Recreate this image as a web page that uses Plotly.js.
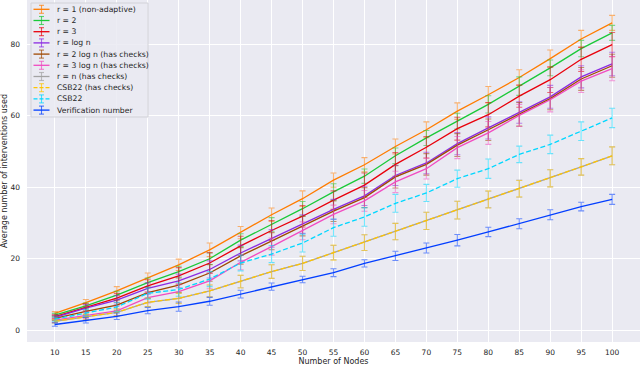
<!DOCTYPE html>
<html>
<head>
<meta charset="utf-8">
<script src="https://cdn.plot.ly/plotly-3.0.1.min.js"></script>
<style>
  html, body { margin: 0; padding: 0; background: #fff; }
  #plot { width: 640px; height: 366px; }
</style>
</head>
<body>
<div id="plot"></div>
<script>
// number of nodes on the x axis
var nodes = [10, 15, 20, 25, 30, 35, 40, 45, 50, 55, 60, 65, 70, 75, 80, 85, 90, 95, 100];

var names = ["r = 1 (non-adaptive)", "r = 2", "r = 3", "r = log n", "r = 2 log n (has checks)",
             "r = 3 log n (has checks)", "r = n (has checks)", "CSB22 (has checks)", "CSB22",
             "Verification number"];

// mean values
var r1       = [4.7, 7.7, 11.0, 14.6, 18.3, 22.5, 27.3, 32.3, 36.8, 42.0, 46.3, 51.4, 56.1, 61.3, 65.9, 70.7, 76.0, 81.5, 86.0];
var r2       = [4.2, 6.8, 9.8, 13.3, 16.4, 20.0, 25.2, 29.6, 34.0, 38.7, 43.1, 48.8, 53.8, 58.5, 63.2, 68.3, 73.4, 78.8, 83.2];
var r3       = [3.8, 6.5, 9.0, 12.4, 15.2, 18.8, 23.6, 27.9, 31.9, 36.4, 40.6, 46.4, 51.2, 56.4, 60.3, 65.5, 70.1, 75.8, 79.9];
var rLog     = [3.6, 6.2, 8.4, 11.7, 13.8, 17.0, 21.6, 25.7, 29.7, 33.8, 37.6, 43.3, 46.8, 52.2, 56.6, 60.9, 65.3, 70.9, 74.5];
var r2Log    = [3.3, 5.3, 7.0, 10.5, 12.6, 16.0, 20.8, 24.9, 29.1, 33.3, 37.1, 42.9, 46.4, 51.8, 56.1, 60.4, 64.8, 70.3, 74.0];
var r3Log    = [2.8, 4.2, 5.4, 9.1, 10.8, 13.8, 19.0, 23.4, 27.8, 32.4, 36.2, 41.5, 45.2, 51.1, 55.2, 60.1, 64.5, 69.7, 73.2];
var rN       = [2.5, 3.7, 5.0, 7.8, 8.9, 11.0, 13.6, 16.4, 18.7, 21.7, 24.5, 27.6, 30.6, 33.6, 36.6, 39.6, 42.5, 45.7, 48.8];
var csbCheck = [2.5, 3.7, 5.0, 7.8, 8.9, 11.0, 13.6, 16.4, 18.7, 21.7, 24.5, 27.6, 30.6, 33.6, 36.6, 39.6, 42.5, 45.7, 48.8];
var csb      = [3.1, 4.9, 6.5, 10.3, 11.4, 14.3, 18.8, 21.3, 24.4, 28.7, 31.7, 35.5, 38.4, 42.4, 45.2, 49.2, 52.0, 55.7, 59.4];
var verif    = [1.6, 2.8, 3.9, 5.5, 6.6, 8.1, 10.1, 12.2, 14.2, 16.1, 18.7, 20.8, 23.0, 25.2, 27.5, 29.8, 32.3, 34.6, 36.6];

// error bar half-lengths
var r1Err       = [0.5, 0.9, 1.2, 1.4, 1.6, 1.9, 1.7, 1.9, 2.2, 2.0, 2.0, 2.1, 2.2, 2.3, 2.3, 2.2, 2.4, 2.4, 2.1];
var r2Err       = [0.5, 0.8, 1.1, 1.3, 1.5, 1.6, 1.8, 1.9, 2.0, 2.3, 2.0, 2.2, 2.1, 2.2, 2.4, 2.6, 2.2, 2.3, 2.1];
var r3Err       = [0.5, 0.9, 1.3, 1.7, 2.3, 2.9, 2.7, 2.8, 3.0, 2.6, 3.4, 3.3, 3.0, 3.2, 3.4, 3.1, 3.6, 3.4, 3.4];
var rLogErr     = [0.6, 1.0, 1.3, 1.6, 1.9, 2.4, 2.2, 2.5, 2.6, 2.8, 2.7, 2.8, 3.0, 3.1, 3.1, 3.0, 3.2, 3.1, 3.3];
var r2LogErr    = [0.6, 1.0, 1.4, 1.6, 2.0, 2.3, 2.3, 2.4, 2.7, 2.9, 2.8, 3.1, 3.0, 3.2, 3.0, 3.3, 3.1, 3.2, 3.2];
var r3LogErr    = [0.6, 0.9, 1.3, 1.5, 1.9, 2.2, 2.1, 2.4, 2.5, 2.6, 2.9, 3.0, 2.9, 3.1, 3.2, 3.1, 3.4, 3.2, 3.4];
var rNErr       = [0.5, 0.8, 1.0, 1.2, 1.4, 1.6, 1.7, 1.9, 2.0, 2.0, 2.2, 2.3, 2.4, 2.5, 2.3, 2.4, 2.4, 2.3, 2.5];
var csbCheckErr = [0.5, 0.8, 1.0, 1.2, 1.4, 1.7, 1.8, 1.9, 2.0, 2.1, 2.2, 2.3, 2.4, 2.5, 2.4, 2.3, 2.4, 2.3, 2.5];
var csbErr      = [0.6, 0.9, 1.3, 1.6, 1.9, 2.1, 2.2, 2.4, 2.5, 2.4, 2.6, 2.5, 2.4, 2.4, 2.7, 2.3, 2.6, 2.6, 2.7];
var verifErr    = [0.5, 0.8, 0.9, 0.9, 1.3, 1.1, 1.1, 1.0, 0.9, 1.1, 1.0, 1.3, 1.4, 1.6, 1.3, 1.4, 1.4, 1.2, 1.4];

var yTicks = [0, 20, 40, 60, 80];

// seaborn "bright" palette
var colors = ["#FF7C00", "#1AC938", "#E8000B", "#8B2BE2", "#9F4800",
              "#F14CC1", "#A3A3A3", "#FFC400", "#00D7FF", "#023EFF"];
var dashed = [false, false, false, false, false, false, false, true, true, false];

var means = [r1, r2, r3, rLog, r2Log, r3Log, rN, csbCheck, csb, verif];
var errs = [r1Err, r2Err, r3Err, rLogErr, r2LogErr, r3LogErr, rNErr, csbCheckErr, csbErr, verifErr];

function fade(hex, a) {
  var r = parseInt(hex.slice(1, 3), 16), g = parseInt(hex.slice(3, 5), 16), b = parseInt(hex.slice(5, 7), 16);
  return "rgba(" + r + "," + g + "," + b + "," + a + ")";
}

var traces = means.map(function (m, i) {
  return {
    x: nodes,
    y: m,
    name: names[i],
    type: "scatter",
    mode: "lines",
    line: {color: colors[i], width: 1.3, dash: dashed[i] ? "5px,2.5px" : "solid"},
    error_y: {type: "data", array: errs[i], visible: true, color: fade(colors[i], 0.55), thickness: 1.1, width: 3},
    showlegend: false
  };
});

// plot area in pixels
var PL = 27, PT = 0, PW = 613, PH = 342;
function px(x) { return (x - PL) / PW; }
function py(y) { return 1 - (y - PT) / PH; }

// hand-built legend, matplotlib style (compact rows)
var shapes = [{
  type: "rect", xref: "paper", yref: "paper",
  x0: px(31), x1: px(148), y0: py(117), y1: py(3),
  fillcolor: "rgba(234,234,242,0.85)", line: {color: "#d2d2d8", width: 1}
}];
var annotations = [];
names.forEach(function (nm, i) {
  var yc = 9.3 + i * 11.2;
  shapes.push({type: "line", xref: "paper", yref: "paper", x0: px(33.5), x1: px(49.5), y0: py(yc), y1: py(yc),
    line: {color: colors[i], width: 1.3, dash: dashed[i] ? "4px,2px" : "solid"}});
  shapes.push({type: "line", xref: "paper", yref: "paper", x0: px(41.5), x1: px(41.5), y0: py(yc - 4), y1: py(yc + 4),
    line: {color: fade(colors[i], 0.7), width: 1.1}});
  shapes.push({type: "line", xref: "paper", yref: "paper", x0: px(39), x1: px(44), y0: py(yc - 4), y1: py(yc - 4),
    line: {color: fade(colors[i], 0.7), width: 1.1}});
  shapes.push({type: "line", xref: "paper", yref: "paper", x0: px(39), x1: px(44), y0: py(yc + 4), y1: py(yc + 4),
    line: {color: fade(colors[i], 0.7), width: 1.1}});
  annotations.push({
    xref: "paper", yref: "paper", x: px(54.5), y: py(yc), xanchor: "left", yanchor: "middle",
    text: nm, showarrow: false, font: {family: "DejaVu Sans", size: 7.7, color: "#262626"}
  });
});

var layout = {
  width: 640,
  height: 366,
  margin: {l: PL, r: 640 - PL - PW, t: PT, b: 366 - PT - PH},
  paper_bgcolor: "#ffffff",
  plot_bgcolor: "#EAEAF2",
  font: {family: "DejaVu Sans", size: 7.5, color: "#262626"},
  showlegend: false,
  xaxis: {
    range: [5.5, 104.5],
    tickvals: nodes,
    ticktext: nodes.map(String),
    showgrid: true, gridcolor: "#ffffff", gridwidth: 1,
    zeroline: false, showline: false, ticks: "",
    ticklabelstandoff: 4,
    automargin: false,
    title: {text: "Number of Nodes", font: {size: 8}, standoff: 2}
  },
  yaxis: {
    range: [-3.3, 92.4],
    tickvals: yTicks,
    showgrid: true, gridcolor: "#ffffff", gridwidth: 1,
    zeroline: false, showline: false, ticks: "",
    ticklabelstandoff: 6,
    automargin: false,
    title: {text: "Average number of interventions used", font: {size: 8}, standoff: 4}
  },
  shapes: shapes,
  annotations: annotations
};

Plotly.newPlot("plot", traces, layout, {staticPlot: true});
</script>
</body>
</html>
